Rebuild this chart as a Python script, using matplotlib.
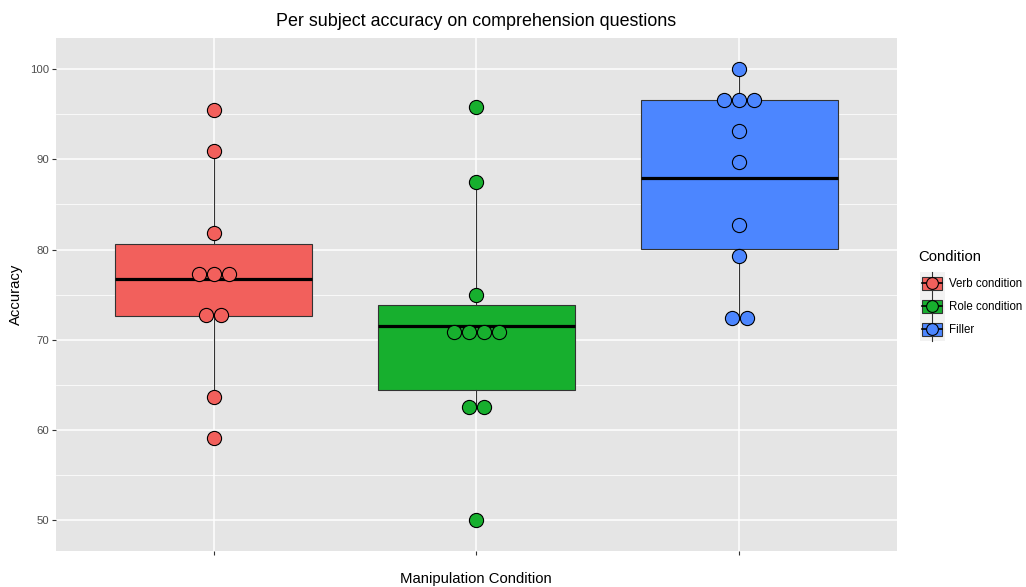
import numpy as np
import matplotlib
matplotlib.use("Agg")
import matplotlib.pyplot as plt
from matplotlib.patches import Rectangle
from matplotlib.lines import Line2D
from matplotlib.legend_handler import HandlerBase

plt.rcParams['font.family'] = ['Liberation Sans', 'DejaVu Sans']

# per subject accuracy (%) for each manipulation condition
conditions = ["Verb condition", "Role condition", "Filler"]
colors = ["#F2605C", "#17AF2E", "#4C86FF"]

verb = [95.45, 90.91, 81.82, 77.27, 77.27, 77.27, 72.73, 72.73, 63.64, 59.09]
role = [95.83, 87.5, 75.0, 70.83, 70.83, 70.83, 70.83, 62.5, 62.5, 50.0]
filler = [100.0, 96.55, 96.55, 96.55, 93.10, 89.66, 82.76, 79.31, 72.41, 72.41]

# box summaries: lower whisker, Q1, median, Q3, upper whisker
whis_lo = [63.64, 62.5, 72.41]
q1 = [72.6, 64.47, 80.1]
med = [76.76, 71.57, 87.95]
q3 = [80.65, 73.9, 96.55]
whis_hi = [90.91, 87.5, 100.0]

groups = [verb, role, filler]

fig = plt.figure(figsize=(10.26, 5.87), dpi=100)
ax = fig.add_axes([56/1026, 1-551.3/587, (896.7-56)/1026, (551.3-38.3)/587])
ax.set_facecolor("#E5E5E5")

stats = []
for i in range(3):
    stats.append(dict(whislo=whis_lo[i], q1=q1[i], med=med[i], q3=q3[i], whishi=whis_hi[i], fliers=[]))

bp = ax.bxp(stats, positions=range(3), widths=0.75, patch_artist=True, showcaps=False,
            boxprops=dict(edgecolor="#333333", linewidth=0.8),
            whiskerprops=dict(color="#333333", linewidth=0.8),
            medianprops=dict(color="black", linewidth=2.3, solid_capstyle='butt'),
            zorder=2)
for patch, c in zip(bp['boxes'], colors):
    patch.set_facecolor(c)

# dot plot: equal values stacked side by side, centred on the category
step = 0.0571
for i, vals in enumerate(groups):
    uniq, counts = np.unique(vals, return_counts=True)
    for v, n in zip(uniq, counts):
        xs = i + (np.arange(n) - (n - 1) / 2) * step
        ax.scatter(xs, [v] * n, s=10.2**2, facecolor=colors[i], edgecolor="black",
                   linewidth=0.8, zorder=3)

ax.set_xlim(-0.6, 2.6)
ax.set_ylim(46.56, 103.41)
ax.set_xticks(range(3))
ax.set_xticklabels([])
ax.set_yticks([50, 60, 70, 80, 90, 100])
ax.set_yticks([55, 65, 75, 85, 95], minor=True)
ax.grid(which='major', color="white", linewidth=1.1)
ax.grid(which='minor', axis='y', color="white", linewidth=0.55)
ax.set_axisbelow(True)
ax.tick_params(which='major', length=3, width=0.8, color="#333333", labelsize=8.2,
               labelcolor="#4D4D4D", pad=2)
ax.tick_params(which='minor', length=0)
for s in ax.spines.values():
    s.set_visible(False)

ax.set_title("Per subject accuracy on comprehension questions", fontsize=12.9, pad=9)
ax.set_xlabel("Manipulation Condition", fontsize=10.7, labelpad=10)
ax.set_ylabel("Accuracy", fontsize=10.7, labelpad=5)


class BoxKey(HandlerBase):
    def create_artists(self, legend, orig_handle, xdescent, ydescent, width, height, fontsize, trans):
        x0, y0 = -xdescent, -ydescent
        c = orig_handle.get_facecolor()
        cy = y0 + height / 2
        bg = Rectangle((x0, cy - 8.3), width, 16.6, facecolor="#F2F2F2", edgecolor="none", transform=trans)
        vline = Line2D([x0 + width / 2] * 2, [cy - 8.3, cy + 8.3], color="#333333", lw=0.8, transform=trans)
        box = Rectangle((x0 + 1.5, cy - 4.6), width - 3, 9.2, facecolor=c,
                        edgecolor="#333333", lw=0.8, transform=trans)
        mid = Line2D([x0 + 1.5, x0 + width - 1.5], [cy] * 2, color="black", lw=1.2,
                     transform=trans)
        dot = Line2D([x0 + width / 2], [cy], marker='o', markersize=8.5,
                     markerfacecolor=c, markeredgecolor="black", markeredgewidth=0.8, transform=trans)
        return [bg, vline, box, mid, dot]


handles = [Rectangle((0, 0), 1, 1, facecolor=c) for c in colors]
fig.text(918/1026, 1-257/587, "Condition", fontsize=10.7, ha='left', va='center')
leg = fig.legend(handles, conditions, loc='upper left',
                 bbox_to_anchor=(914/1026, 1-266/587), frameon=False, fontsize=8.3,
                 handler_map={Rectangle: BoxKey()},
                 handlelength=2.15, handleheight=2.7, labelspacing=0.0, handletextpad=0.4,
                 borderpad=0.0)

fig.savefig("out.png", dpi=100)
